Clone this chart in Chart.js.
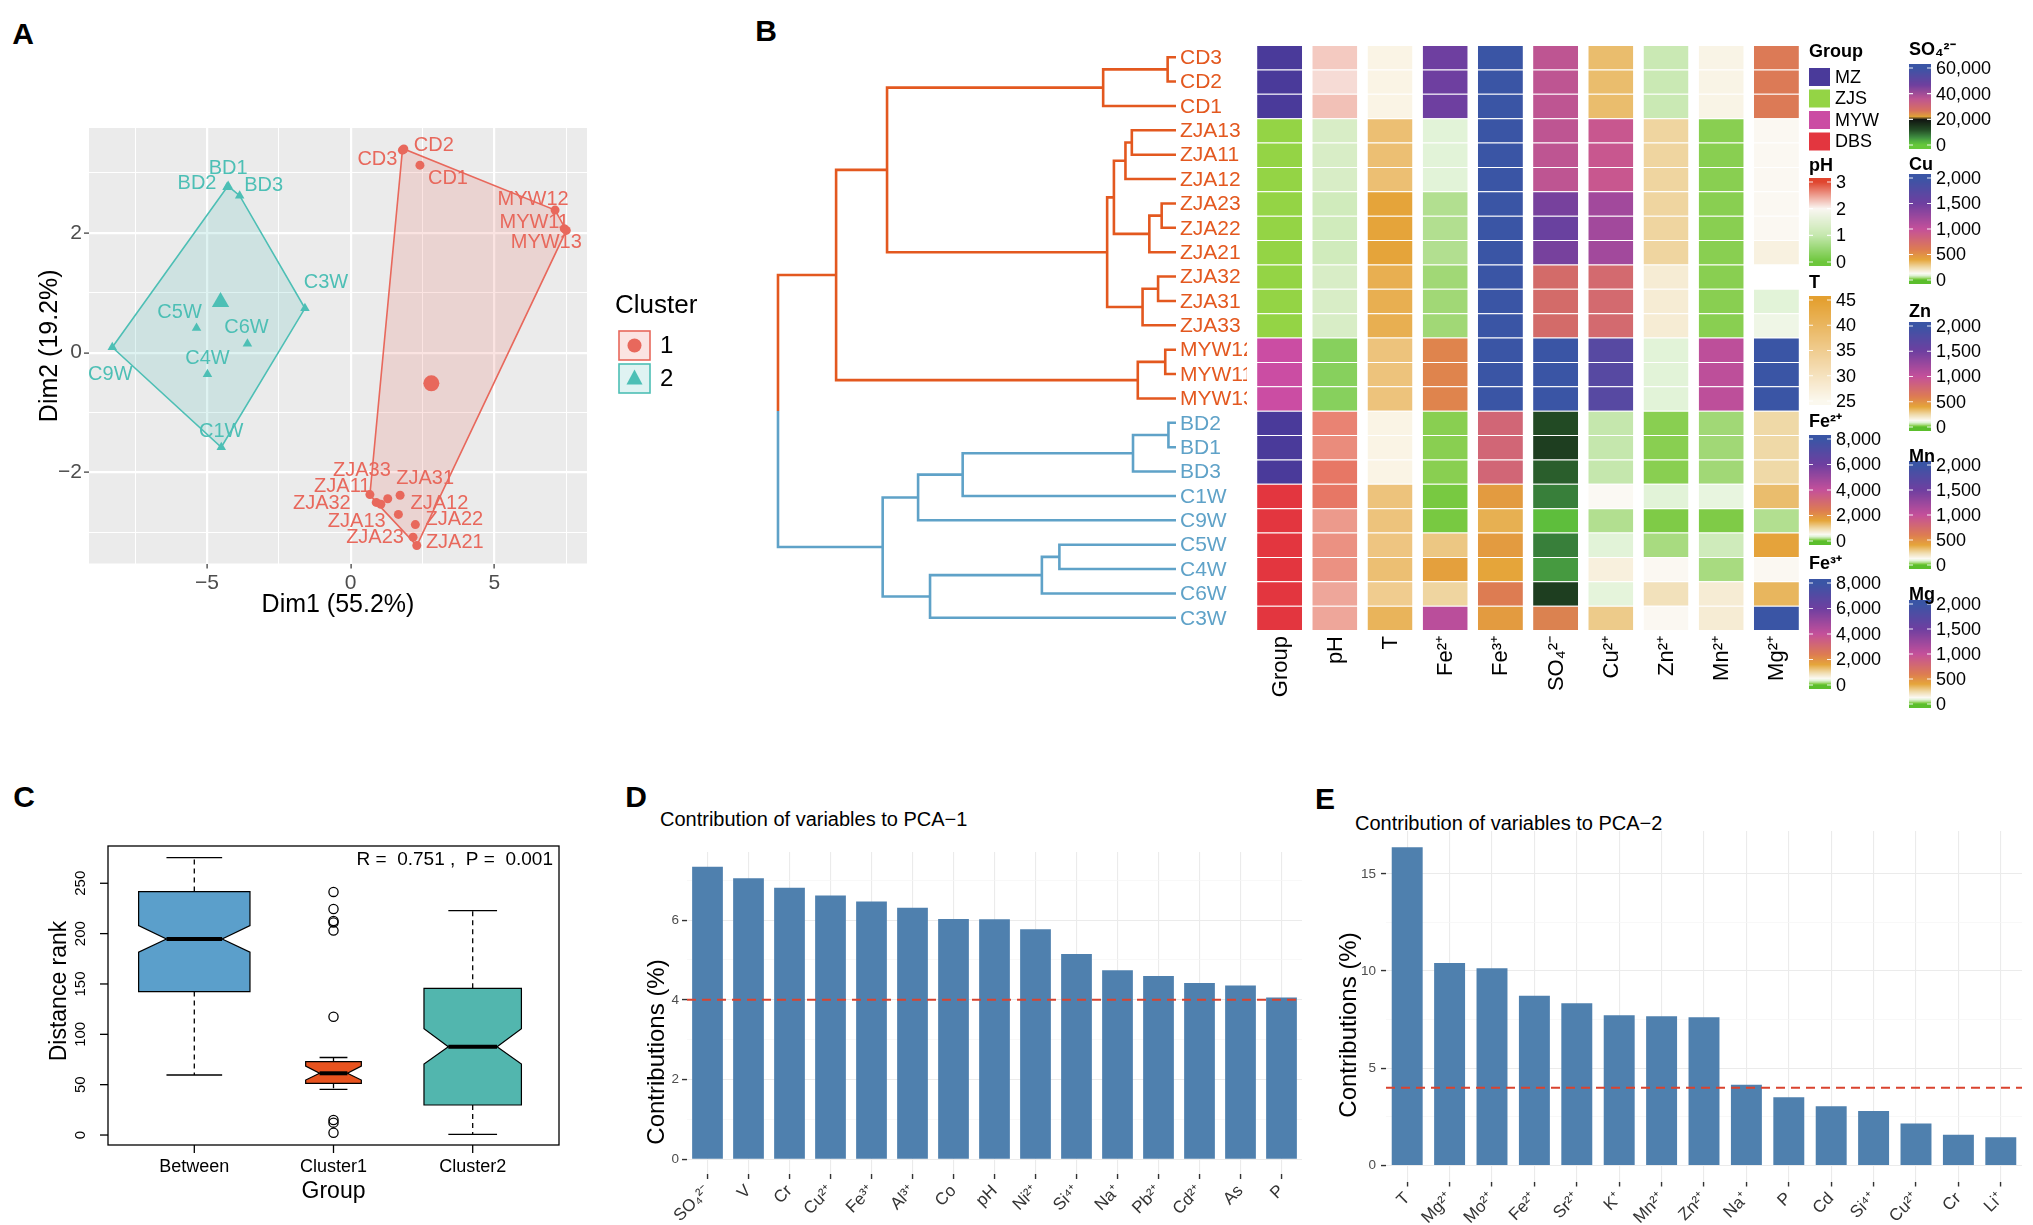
<!DOCTYPE html>
<html>
<head>
<meta charset="utf-8">
<title>Sample clustering and PCA contributions</title>
<script src="https://cdn.jsdelivr.net/npm/chart.js@4.4.1/dist/chart.umd.min.js"></script>
<style>
  html, body { margin: 0; padding: 0; background: #fff; }
  body { position: relative; width: 2033px; height: 1225px; overflow: hidden;
         font-family: "Liberation Sans", Arial, Helvetica, sans-serif; }
  canvas { position: absolute; }
  .txt { position: absolute; white-space: nowrap; line-height: 1; transform: translateY(-50%); color: #000; }
  .letter { font-weight: bold; font-size: 30px; transform: translate(-50%, -50%); }
</style>
</head>
<body>
<div class="txt letter" style="left:23px;top:34px">A</div>
<div class="txt letter" style="left:766px;top:31px">B</div>
<div class="txt letter" style="left:24px;top:797px">C</div>
<div class="txt letter" style="left:636px;top:797px">D</div>
<div class="txt letter" style="left:1325px;top:799px">E</div>
<div class="txt" style="left:660px;top:819px;font-size:20px">Contribution of variables to PCA−1</div>
<div class="txt" style="left:1355px;top:823px;font-size:20px">Contribution of variables to PCA−2</div>

<canvas id="pca" width="720" height="640" style="left:0;top:0"></canvas>
<canvas id="dendro" width="500" height="720" style="left:760px;top:0"></canvas>
<canvas id="heat" width="783" height="720" style="left:1250px;top:0"></canvas>
<canvas id="box" width="620" height="465" style="left:0;top:760px"></canvas>
<canvas id="pc1" width="720" height="465" style="left:600px;top:760px"></canvas>
<canvas id="pc2" width="733" height="465" style="left:1300px;top:760px"></canvas>

<script>
// ---------- A: PCA cluster plot ----------
const pcaNames = ['CD3','CD2','CD1','MYW12','MYW11','MYW13','ZJA33','ZJA11','ZJA32','ZJA13','ZJA31','ZJA12','ZJA22','ZJA23','ZJA21',
                  'BD1','BD2','BD3','C3W','C5W','C6W','C4W','C9W','C1W'];
const pcaDim1 = [1.80, 1.85, 2.41, 7.11, 7.43, 7.50, 0.67, 0.89, 1.05, 1.29, 1.72, 1.66, 2.25, 2.17, 2.30,
                 -4.26, -4.30, -3.86, -1.59, -5.36, -3.59, -4.98, -8.29, -4.50];
const pcaDim2 = [3.38, 3.40, 3.13, 2.38, 2.07, 2.04, -2.37, -2.50, -2.53, -2.44, -2.38, -2.70, -2.87, -3.08, -3.22,
                 2.78, 2.76, 2.62, 0.74, 0.41, 0.15, -0.36, 0.09, -1.58];
const pcaCluster = [1,1,1,1,1,1,1,1,1,1,1,1,1,1,1, 2,2,2,2,2,2,2,2,2];
const pcaXTicks = [-7.5, -5, -2.5, 0, 2.5, 5, 7.5];
const pcaYTicks = [-3, -2, -1, 0, 1, 2, 3];

// ---------- B: dendrogram + heatmap ----------
const leaves = ['CD3','CD2','CD1','ZJA13','ZJA11','ZJA12','ZJA23','ZJA22','ZJA21','ZJA32','ZJA31','ZJA33',
                'MYW12','MYW11','MYW13','BD2','BD1','BD3','C1W','C9W','C5W','C4W','C6W','C3W'];
// [left child, right child, height]; numbers refer to earlier merges
const merges = [
  ['CD3','CD2',0.21], [0,'CD1',1.83],
  ['ZJA13','ZJA11',1.11], [2,'ZJA12',1.27], ['ZJA23','ZJA22',0.36], [4,'ZJA21',0.67], [3,5,1.56],
  ['ZJA32','ZJA31',0.45], [7,'ZJA33',0.84], [6,8,1.73], [1,9,7.26],
  ['MYW12','MYW11',0.27], [11,'MYW13',0.96], [10,12,8.54],
  ['BD2','BD1',0.19], [14,'BD3',1.08], [15,'C1W',5.36], [16,'C9W',6.48],
  ['C5W','C4W',2.93], [18,'C6W',3.37], [19,'C3W',6.18], [17,20,7.37],
  [13,21,10]
];
const heatColumns = ['Group','pH','T','Fe²⁺','Fe³⁺','SO₄²⁻','Cu²⁺','Zn²⁺','Mn²⁺','Mg²⁺'];
const groupNames = ['MZ','ZJS','MYW','DBS'];
const rowGroup = ['MZ','MZ','MZ','ZJS','ZJS','ZJS','ZJS','ZJS','ZJS','ZJS','ZJS','ZJS',
                  'MYW','MYW','MYW','MZ','MZ','MZ','DBS','DBS','DBS','DBS','DBS','DBS'];
const heatPH  = [2.25,2.15,2.3, 1.35,1.35,1.35, 1.2,1.2,1.2, 1.35,1.35,1.35, 0.3,0.3,0.3, 2.65,2.6,2.72, 2.72,2.52,2.57,2.57,2.45,2.45];
const heatT   = [26,26,26, 38,38,38, 44,44,44, 41.5,41.5,41.5, 37,37,37, 26,26,26, 37,37,36.5,38,35,40.5];
const heatFe2 = [6000,6000,6000, 360,360,360, 200,200,200, 160,160,160, 2240,2240,2240, 104,104,104, 64,64,1200,1700,1040,4240];
const heatFe3 = [8000,8000,8000,8000,8000,8000,8000,8000,8000,8000,8000,8000,8000,8000,8000, 3200,3200,3200, 1800,1470,1800,1600,2400,1800];
const heatSO4 = [36000,36000,36000,36000,36000,36000, 45600,48000,45600, 28800,28800,28800, 60000,60000,60000,
                 12000,13800,10200, 7200,1200,7200,4800,13800,25200];
const heatCu  = [330,330,330, 940,940,940, 1200,1200,1200, 760,760,760, 1720,1720,1720, 66,66,66, 130,50,90,165,94,290];
const heatZn  = [70,70,70, 260,260,260, 260,260,260, 180,180,180, 90,90,90, 26,26,26, 90,20,44,132,220,132];
const heatMn  = [150,150,150, 26,26,26, 26,26,26, 26,26,26, 1040,1040,1040, 40,40,40, 100,20,74,44,180,180];
const heatMg  = [620,620,620, 132,132,132, 132,132,160, null,90,110, 2000,2000,2000, 250,250,250, 330,50,410,132,350,2000];
const heatValues = [rowGroup, heatPH, heatT, heatFe2, heatFe3, heatSO4, heatCu, heatZn, heatMn, heatMg];

// ---------- C: ANOSIM boxplot ----------
const boxGroups = ['Between','Cluster1','Cluster2'];
const boxWhiskerLow  = [59.6, 45.4, 0.7];
const boxQ1          = [142.4, 51.3, 29.8];
const boxNotchLow    = [181.5, 54.6, 70.5];
const boxMedian      = [194.7, 61.3, 87.7];
const boxNotchHigh   = [208.0, 68.5, 105.6];
const boxQ3          = [241.7, 72.8, 145.7];
const boxWhiskerHigh = [275.5, 77.0, 222.8];
const boxHalfWidth   = [0.40, 0.20, 0.35];
const outlierGroup = [2,2,2,2,2,2,2,2,2];
const outlierValue = [241.4, 224.5, 212.6, 211.0, 203.0, 117.5, 14.9, 12.3, 2.3];
const boxYTicks = [0, 50, 100, 150, 200, 250];

// ---------- D / E: contributions ----------
const pc1Vars = ['SO₄²⁻','V','Cr','Cu²⁺','Fe³⁺','Al³⁺','Co','pH','Ni²⁺','Si⁴⁺','Na⁺','Pb²⁺','Cd²⁺','As','P'];
const pc1Contrib = [7.34, 7.05, 6.81, 6.62, 6.47, 6.31, 6.03, 6.02, 5.77, 5.15, 4.74, 4.60, 4.42, 4.36, 4.06];
const pc2Vars = ['T','Mg²⁺','Mo²⁺','Fe²⁺','Sr²⁺','K⁺','Mn²⁺','Zn²⁺','Na⁺','P','Cd','Si⁴⁺','Cu²⁺','Cr','Li⁺'];
const pc2Contrib = [16.37, 10.41, 10.15, 8.73, 8.35, 7.73, 7.68, 7.63, 4.15, 3.51, 3.05, 2.81, 2.16, 1.58, 1.46];
const expectedContrib = 4;

const FONT = '"Liberation Sans", Arial, Helvetica, sans-serif';
Chart.defaults.font.family = FONT;
Chart.defaults.animation = false;
Chart.defaults.plugins.legend.display = false;
Chart.defaults.plugins.tooltip.enabled = false;

const minus = v => (v < 0 ? '−' : '') + Math.abs(v);
const isMult = (v, m) => Math.abs(v / m - Math.round(v / m)) < 1e-9;

// ===== A =====
const RED = '#E8685C', TEAL = '#4DBFB5';
const clusterColor = {1: RED, 2: TEAL};
const clusterFill = {1: 'rgba(232,104,92,0.18)', 2: 'rgba(77,191,181,0.18)'};
const labelNudge = {CD3:[-25,9], CD2:[30,-3], CD1:[28,13], MYW12:[-22,-11], MYW11:[-30,-6], MYW13:[-20,12],
  ZJA33:[-8,-24], ZJA11:[-34,-16], ZJA32:[-59,-1], ZJA13:[-31,23], ZJA31:[25,-17], ZJA12:[41,-11],
  ZJA22:[39,-5], ZJA23:[-38,0], ZJA21:[38,-3], BD1:[0,-18], BD2:[-30,-4], BD3:[24,-10], C3W:[21,-26],
  C5W:[-17,-16], C6W:[-1,-16], C4W:[0,-16], C9W:[-2,27], C1W:[0,-16]};

function hull(pts) {
  const p = pts.slice().sort((a, b) => a.x - b.x || a.y - b.y);
  const cross = (o, a, b) => (a.x - o.x) * (b.y - o.y) - (a.y - o.y) * (b.x - o.x);
  const lo = [], up = [];
  for (const q of p) { while (lo.length >= 2 && cross(lo[lo.length-2], lo[lo.length-1], q) <= 0) lo.pop(); lo.push(q); }
  for (let i = p.length - 1; i >= 0; i--) { const q = p[i]; while (up.length >= 2 && cross(up[up.length-2], up[up.length-1], q) <= 0) up.pop(); up.push(q); }
  lo.pop(); up.pop();
  const h = lo.concat(up); h.push(h[0]);
  return h;
}

const pcaDatasets = [];
[1, 2].forEach(c => {
  const pts = pcaNames.map((n, i) => ({x: pcaDim1[i], y: pcaDim2[i], name: n, c: pcaCluster[i]})).filter(p => p.c === c);
  const cx = pts.reduce((s, p) => s + p.x, 0) / pts.length, cy = pts.reduce((s, p) => s + p.y, 0) / pts.length;
  const style = c === 1 ? 'circle' : 'triangle';
  pcaDatasets.push({type: 'scatter', data: pts, pointStyle: style, pointRadius: c === 1 ? 4.5 : 5.5,
    backgroundColor: clusterColor[c], borderWidth: 0, order: 1, clip: false});
  pcaDatasets.push({type: 'scatter', data: [{x: cx, y: cy}], pointStyle: style, pointRadius: c === 1 ? 8 : 10,
    backgroundColor: clusterColor[c], borderWidth: 0, order: 1, clip: false});
  pcaDatasets.push({type: 'line', data: hull(pts), borderColor: clusterColor[c], borderWidth: 1.6,
    backgroundColor: clusterFill[c], fill: 'shape', pointRadius: 0, tension: 0, order: 5, clip: false});
});

const pcaPanel = {
  id: 'pcaPanel',
  beforeDraw(chart) {
    const {ctx, chartArea: a} = chart;
    ctx.save(); ctx.fillStyle = '#EBEBEB'; ctx.fillRect(a.left, a.top, a.width, a.height); ctx.restore();
  },
  afterDraw(chart) {
    const {ctx, scales: {x, y}} = chart;
    ctx.save();
    ctx.font = '20px ' + FONT; ctx.textAlign = 'center'; ctx.textBaseline = 'middle';
    pcaNames.forEach((n, i) => {
      const d = labelNudge[n] || [0, -16];
      ctx.fillStyle = clusterColor[pcaCluster[i]];
      ctx.fillText(n, x.getPixelForValue(pcaDim1[i]) + d[0], y.getPixelForValue(pcaDim2[i]) + d[1]);
    });
    // legend
    ctx.textAlign = 'left'; ctx.fillStyle = '#000';
    ctx.font = '26px ' + FONT; ctx.fillText('Cluster', 615, 306);
    [[1, 331], [2, 364]].forEach(([c, top]) => {
      ctx.fillStyle = '#fff'; ctx.fillRect(619, top, 31, 29);
      ctx.fillStyle = clusterFill[c]; ctx.fillRect(619, top, 31, 29);
      ctx.strokeStyle = clusterColor[c]; ctx.lineWidth = 1.6; ctx.strokeRect(619, top, 31, 29);
      ctx.fillStyle = clusterColor[c];
      const mx = 634.5, my = top + 14.5;
      ctx.beginPath();
      if (c === 1) ctx.arc(mx, my, 7, 0, Math.PI * 2);
      else { ctx.moveTo(mx, my - 9); ctx.lineTo(mx + 8, my + 6); ctx.lineTo(mx - 8, my + 6); ctx.closePath(); }
      ctx.fill();
      ctx.fillStyle = '#000'; ctx.font = '24px ' + FONT; ctx.fillText(String(c), 660, my + 1);
    });
    ctx.restore();
  }
};

new Chart(document.getElementById('pca'), {
  type: 'scatter',
  data: {datasets: pcaDatasets},
  options: {
    responsive: false,
    layout: {padding: {left: 0, top: 128, right: 133, bottom: 0}},
    scales: {
      x: {type: 'linear', min: -9.1, max: 8.22,
        afterBuildTicks: s => { s.ticks = pcaXTicks.map(v => ({value: v})); },
        afterFit: s => { s.height = 76.5; },
        ticks: {autoSkip: false, maxRotation: 0, callback: v => isMult(v, 5) ? minus(v) : '', color: '#4D4D4D', font: {size: 21}, padding: 2},
        grid: {color: '#FFFFFF', lineWidth: c => c.tick && isMult(c.tick.value, 5) ? 2.2 : 1,
               tickColor: c => c.tick && isMult(c.tick.value, 5) ? '#333' : 'rgba(0,0,0,0)', tickLength: 5, tickWidth: 1.2},
        border: {display: false},
        title: {display: true, text: 'Dim1 (55.2%)', color: '#000', font: {size: 25}, padding: {top: 0, bottom: 20}}
      },
      y: {type: 'linear', min: -3.52, max: 3.75,
        afterBuildTicks: s => { s.ticks = pcaYTicks.map(v => ({value: v})); },
        afterFit: s => { s.width = 89; },
        ticks: {autoSkip: false, callback: v => isMult(v, 2) ? minus(v) : '', color: '#4D4D4D', font: {size: 21}, padding: 2},
        grid: {color: '#FFFFFF', lineWidth: c => c.tick && isMult(c.tick.value, 2) ? 2.2 : 1,
               tickColor: c => c.tick && isMult(c.tick.value, 2) ? '#333' : 'rgba(0,0,0,0)', tickLength: 5, tickWidth: 1.2},
        border: {display: false},
        title: {display: true, text: 'Dim2 (19.2%)', color: '#000', font: {size: 25}, padding: {top: 35, bottom: 0}}
      }
    }
  },
  plugins: [pcaPanel]
});

// ===== B: dendrogram =====
const DRED = '#E3581F', DBLUE = '#5FA2C8';
const nodeInfo = [];
function nodeOf(ref) {
  if (typeof ref === 'string') return {h: 0, y: leaves.indexOf(ref), leaves: [ref]};
  return nodeInfo[ref];
}
merges.forEach(([a, b, h]) => {
  const A = nodeOf(a), B = nodeOf(b);
  nodeInfo.push({h, y: (A.y + B.y) / 2, leaves: A.leaves.concat(B.leaves), a: A, b: B});
});
const root = nodeInfo[nodeInfo.length - 1];
const redLeaves = new Set(root.a.leaves);
const leafColor = n => redLeaves.has(n) ? DRED : DBLUE;
const dendroSets = [];
const seg = (pts, color) => dendroSets.push({data: pts, showLine: true, borderColor: color, borderWidth: 2.6,
  pointRadius: 0, fill: false, tension: 0, clip: false});
nodeInfo.forEach(n => {
  const {a, b, h} = n;
  if (n === root) {
    const mid = (a.y + b.y) / 2;
    seg([{x: a.h, y: a.y}, {x: h, y: a.y}, {x: h, y: mid}], DRED);
    seg([{x: h, y: mid}, {x: h, y: b.y}, {x: b.h, y: b.y}], DBLUE);
  } else {
    seg([{x: a.h, y: a.y}, {x: h, y: a.y}, {x: h, y: b.y}, {x: b.h, y: b.y}], leafColor(n.leaves[0]));
  }
});
new Chart(document.getElementById('dendro'), {
  type: 'scatter',
  data: {datasets: dendroSets},
  options: {
    responsive: false,
    layout: {padding: {left: 18, right: 84, top: 45, bottom: 90}},
    scales: {
      x: {type: 'linear', min: 0, max: 10, reverse: true, display: false},
      y: {type: 'linear', min: -0.5, max: leaves.length - 0.5, reverse: true, display: false}
    }
  },
  plugins: [{
    id: 'leafLabels',
    afterDatasetsDraw(chart) {
      const {ctx, chartArea: a, scales: {y}} = chart;
      ctx.save();
      ctx.beginPath(); ctx.rect(a.right, 0, 487 - a.right, chart.height); ctx.clip();
      ctx.font = '21px ' + FONT; ctx.textBaseline = 'middle'; ctx.textAlign = 'left';
      leaves.forEach((n, i) => { ctx.fillStyle = leafColor(n); ctx.fillText(n, a.right + 4, y.getPixelForValue(i) + 1); });
      ctx.restore();
    }
  }]
});

// ===== B: heatmap =====
function hexRgb(c) { const n = parseInt(c.slice(1), 16); return [(n >> 16) & 255, (n >> 8) & 255, n & 255]; }
function rampColor(stops, v) {
  const s = x => 'rgb(' + hexRgb(x).join(',') + ')';
  if (v <= stops[0][0]) return s(stops[0][1]);
  for (let i = 1; i < stops.length; i++) {
    if (v <= stops[i][0]) {
      const [v0, c0] = stops[i - 1], [v1, c1] = stops[i];
      const t = (v - v0) / (v1 - v0), p = hexRgb(c0), q = hexRgb(c1);
      return 'rgb(' + p.map((x, k) => Math.round(x + (q[k] - x) * t)).join(',') + ')';
    }
  }
  return s(stops[stops.length - 1][1]);
}
const genericRamp = [[0,'#5BBE2C'],[0.012,'#86CE4C'],[0.025,'#B2DF90'],[0.045,'#E2F3D8'],[0.065,'#FBF9F3'],
  [0.12,'#F0DCAE'],[0.2,'#E5A53A'],[0.3,'#DD7C52'],[0.5,'#C4509A'],[0.75,'#6E3FA0'],[1,'#3A55A5']];
const so4Ramp = [[0,'#66C83A'],[0.05,'#52B040'],[0.1,'#3E8C40'],[0.2,'#224A24'],[0.33,'#111511'],[0.37,'#E0A038'],
  [0.45,'#D8705F'],[0.6,'#BE5592'],[0.78,'#6E3F9E'],[1,'#3A55A5']];
const scaled = (r, m) => r.map(([f, c]) => [f * m, c]);
const groupColors = {MZ: '#4A3A9A', ZJS: '#94D445', MYW: '#CB4DA3', DBS: '#E3363F'};
const columnRamps = [null,
  [[0,'#6CC63A'],[1,'#C5E8AE'],[2,'#FAF6F2'],[3,'#E0452E']],
  [[25,'#FBF8EE'],[45,'#E4A030']],
  scaled(genericRamp, 8000), scaled(genericRamp, 8000), scaled(so4Ramp, 60000),
  scaled(genericRamp, 2000), scaled(genericRamp, 2000), scaled(genericRamp, 2000), scaled(genericRamp, 2000)];
const cellColor = (j, v) => j === 0 ? groupColors[v] : (v == null ? 'rgba(0,0,0,0)' : rampColor(columnRamps[j], v));

const heatSets = leaves.map((n, i) => ({
  label: n,
  data: heatColumns.map((c, j) => heatValues[j][i] == null ? null : [i, i + 1]),
  backgroundColor: heatColumns.map((c, j) => cellColor(j, heatValues[j][i])),
  borderColor: 'rgba(255,255,255,0.22)', borderWidth: {top: 1, bottom: 0, left: 0, right: 0}, borderSkipped: false,
  grouped: false, barPercentage: 0.815, categoryPercentage: 1
}));

const legendBars = [
  {title: 'pH', ramp: 1, x: 1809, yMax: 182, yMin: 262, ty: 166, vmin: 0, vmax: 3, ticks: [0, 1, 2, 3]},
  {title: 'T', ramp: 2, x: 1809, yMax: 300, yMin: 401, ty: 283, vmin: 25, vmax: 45, ticks: [25, 30, 35, 40, 45]},
  {title: 'Fe²⁺', ramp: 3, x: 1809, yMax: 439, yMin: 541, ty: 422, vmin: 0, vmax: 8000, ticks: [0, 2000, 4000, 6000, 8000]},
  {title: 'Fe³⁺', ramp: 4, x: 1809, yMax: 583, yMin: 685, ty: 564, vmin: 0, vmax: 8000, ticks: [0, 2000, 4000, 6000, 8000]},
  {title: 'SO₄²⁻', ramp: 5, x: 1909, yMax: 68, yMin: 145, ty: 50, vmin: 0, vmax: 60000, ticks: [0, 20000, 40000, 60000]},
  {title: 'Cu', ramp: 6, x: 1909, yMax: 178, yMin: 280, ty: 165, vmin: 0, vmax: 2000, ticks: [0, 500, 1000, 1500, 2000]},
  {title: 'Zn', ramp: 7, x: 1909, yMax: 326, yMin: 427, ty: 312, vmin: 0, vmax: 2000, ticks: [0, 500, 1000, 1500, 2000]},
  {title: 'Mn', ramp: 8, x: 1909, yMax: 465, yMin: 565, ty: 457, vmin: 0, vmax: 2000, ticks: [0, 500, 1000, 1500, 2000]},
  {title: 'Mg', ramp: 9, x: 1909, yMax: 604, yMin: 704, ty: 595, vmin: 0, vmax: 2000, ticks: [0, 500, 1000, 1500, 2000]}
];

new Chart(document.getElementById('heat'), {
  type: 'bar',
  data: {labels: heatColumns, datasets: heatSets},
  options: {
    responsive: false,
    layout: {padding: {left: 2, right: 229, top: 45, bottom: 90}},
    scales: {
      x: {display: false},
      y: {type: 'linear', min: 0, max: leaves.length, reverse: true, display: false}
    }
  },
  plugins: [{
    id: 'heatDecor',
    afterDraw(chart) {
      const {ctx, chartArea: a, scales: {x}} = chart;
      const X0 = 1250;
      ctx.save();
      ctx.fillStyle = '#000'; ctx.font = '22px ' + FONT; ctx.textBaseline = 'middle'; ctx.textAlign = 'right';
      heatColumns.forEach((c, j) => {
        ctx.save(); ctx.translate(x.getPixelForValue(j) + 1, a.bottom + 6); ctx.rotate(-Math.PI / 2);
        ctx.fillText(c, 0, 0); ctx.restore();
      });
      ctx.textAlign = 'left';
      // group legend
      ctx.font = 'bold 18px ' + FONT; ctx.fillText('Group', 1809 - X0, 52);
      ctx.font = '18px ' + FONT;
      groupNames.forEach((g, k) => {
        const cy = 77 + k * 21.5;
        ctx.fillStyle = groupColors[g]; ctx.fillRect(1809 - X0, cy - 9, 21, 18);
        ctx.fillStyle = '#000'; ctx.fillText(g, 1835 - X0, cy + 1);
      });
      // colour bars
      legendBars.forEach(L => {
        const bx = L.x - X0, top = L.yMax - 4, bot = L.yMin + 4;
        for (let py = top; py < bot; py++) {
          let v = L.vmax - (py + 0.5 - L.yMax) / (L.yMin - L.yMax) * (L.vmax - L.vmin);
          v = Math.max(L.vmin, Math.min(L.vmax, v));
          ctx.fillStyle = rampColor(columnRamps[L.ramp], v); ctx.fillRect(bx, py, 22, 1);
        }
        ctx.strokeStyle = 'rgba(255,255,255,0.9)'; ctx.lineWidth = 1.2;
        ctx.font = '18px ' + FONT; ctx.fillStyle = '#000';
        L.ticks.forEach(t => {
          const py = L.yMax + (L.vmax - t) / (L.vmax - L.vmin) * (L.yMin - L.yMax);
          ctx.beginPath(); ctx.moveTo(bx, py); ctx.lineTo(bx + 4, py); ctx.moveTo(bx + 18, py); ctx.lineTo(bx + 22, py); ctx.stroke();
          ctx.fillText(t.toLocaleString('en-US'), bx + 27, py + 1);
        });
        ctx.font = 'bold 18px ' + FONT; ctx.fillText(L.title, bx, L.ty);
      });
      ctx.restore();
    }
  }]
});

// ===== C: boxplot =====
const boxColors = ['#5B9FCB', '#E8531F', '#52B6AE'];
new Chart(document.getElementById('box'), {
  type: 'scatter',
  data: {datasets: [{data: outlierValue.map((v, i) => ({x: outlierGroup[i], y: v})), pointStyle: 'circle', pointRadius: 4.6,
    backgroundColor: 'rgba(0,0,0,0)', borderColor: '#000', borderWidth: 1.3}]},
  options: {
    responsive: false,
    layout: {padding: {left: 108, right: 61, top: 86, bottom: 80}},
    scales: {
      x: {type: 'linear', min: 0.38, max: 3.62, display: false},
      y: {type: 'linear', min: -9.9, max: 287, display: false}
    }
  },
  plugins: [{
    id: 'notchBoxes',
    beforeDatasetsDraw(chart) {
      const {ctx, scales: {x, y}} = chart;
      const Y = v => y.getPixelForValue(v);
      ctx.save();
      boxGroups.forEach((g, i) => {
        const c = x.getPixelForValue(i + 1), hw = x.getPixelForValue(i + 1 + boxHalfWidth[i]) - c, xn = hw / 2;
        ctx.strokeStyle = '#000'; ctx.lineWidth = 1.3;
        ctx.setLineDash([5, 4]); ctx.beginPath();
        ctx.moveTo(c, Y(boxQ3[i])); ctx.lineTo(c, Y(boxWhiskerHigh[i]));
        ctx.moveTo(c, Y(boxQ1[i])); ctx.lineTo(c, Y(boxWhiskerLow[i]));
        ctx.stroke(); ctx.setLineDash([]);
        ctx.beginPath();
        ctx.moveTo(c - xn, Y(boxWhiskerHigh[i])); ctx.lineTo(c + xn, Y(boxWhiskerHigh[i]));
        ctx.moveTo(c - xn, Y(boxWhiskerLow[i])); ctx.lineTo(c + xn, Y(boxWhiskerLow[i]));
        ctx.stroke();
        const xl = c - hw, xr = c + hw;
        ctx.beginPath();
        ctx.moveTo(xl, Y(boxQ1[i])); ctx.lineTo(xl, Y(boxNotchLow[i])); ctx.lineTo(c - xn, Y(boxMedian[i]));
        ctx.lineTo(xl, Y(boxNotchHigh[i])); ctx.lineTo(xl, Y(boxQ3[i])); ctx.lineTo(xr, Y(boxQ3[i]));
        ctx.lineTo(xr, Y(boxNotchHigh[i])); ctx.lineTo(c + xn, Y(boxMedian[i])); ctx.lineTo(xr, Y(boxNotchLow[i]));
        ctx.lineTo(xr, Y(boxQ1[i])); ctx.closePath();
        ctx.fillStyle = boxColors[i]; ctx.fill(); ctx.lineWidth = 1.2; ctx.stroke();
        ctx.lineWidth = 4; ctx.beginPath(); ctx.moveTo(c - xn, Y(boxMedian[i])); ctx.lineTo(c + xn, Y(boxMedian[i])); ctx.stroke();
      });
      ctx.restore();
    },
    afterDraw(chart) {
      const {ctx, chartArea: a, scales: {x, y}} = chart;
      ctx.save();
      ctx.strokeStyle = '#000'; ctx.lineWidth = 1.3; ctx.strokeRect(a.left, a.top, a.width, a.height);
      ctx.fillStyle = '#000'; ctx.textAlign = 'center'; ctx.textBaseline = 'middle';
      ctx.font = '15px ' + FONT;
      boxYTicks.forEach(v => {
        const py = y.getPixelForValue(v);
        ctx.beginPath(); ctx.moveTo(a.left - 8, py); ctx.lineTo(a.left, py); ctx.stroke();
        ctx.save(); ctx.translate(81, py); ctx.rotate(-Math.PI / 2); ctx.fillText(String(v), 0, 0); ctx.restore();
      });
      ctx.font = '18px ' + FONT;
      boxGroups.forEach((g, i) => {
        const px = x.getPixelForValue(i + 1);
        ctx.beginPath(); ctx.moveTo(px, a.bottom); ctx.lineTo(px, a.bottom + 8); ctx.stroke();
        ctx.fillText(g, px, 407);
      });
      ctx.font = '23px ' + FONT;
      ctx.fillText('Group', (a.left + a.right) / 2, 432);
      ctx.save(); ctx.translate(60, 231); ctx.rotate(-Math.PI / 2); ctx.fillText('Distance rank', 0, 0); ctx.restore();
      ctx.font = '19px ' + FONT; ctx.textAlign = 'right';
      ctx.fillText('R =  0.751 ,  P =  0.001', a.right - 6, 100);
      ctx.restore();
    }
  }]
});

// ===== D, E: contribution bars =====
const contribDecor = {
  id: 'contribDecor',
  afterDatasetsDraw(chart, args, opts) {
    const {ctx, chartArea: a, scales: {y}} = chart;
    const py = y.getPixelForValue(opts.refValue);
    ctx.save(); ctx.strokeStyle = '#D9432F'; ctx.lineWidth = 2; ctx.setLineDash([9, 6]);
    ctx.beginPath(); ctx.moveTo(a.left, py); ctx.lineTo(a.right, py); ctx.stroke(); ctx.restore();
  },
  afterDraw(chart, args, opts) {
    const {ctx} = chart;
    ctx.save(); ctx.translate(opts.titleX, opts.titleY); ctx.rotate(-Math.PI / 2);
    ctx.fillStyle = '#000'; ctx.font = '24px ' + FONT; ctx.textAlign = 'center'; ctx.textBaseline = 'middle';
    ctx.fillText('Contributions (%)', 0, 0); ctx.restore();
  }
};
function contribChart(id, vars, vals, o) {
  const major = v => isMult(v, o.major);
  return new Chart(document.getElementById(id), {
    type: 'bar',
    data: {labels: vars, datasets: [{data: vals, backgroundColor: '#4F80AE', barPercentage: o.barPct, categoryPercentage: 1}]},
    options: {
      responsive: false,
      layout: {padding: {left: 0, right: o.right, top: o.top, bottom: 0}},
      plugins: {contribDecor: {refValue: expectedContrib, titleX: o.titleX, titleY: o.titleY}},
      scales: {
        x: {grid: {offset: false, color: '#EBEBEB', lineWidth: 1.1, tickColor: '#333', tickLength: 5, tickWidth: 1.4},
            border: {display: false},
            ticks: {autoSkip: false, minRotation: 45, maxRotation: 45, color: '#333', font: {size: 17}, padding: 2},
            afterFit: s => { s.height = o.xh; }},
        y: {min: o.min, max: o.max,
            afterBuildTicks: s => { s.ticks = o.ticks.map(v => ({value: v})); },
            afterFit: s => { s.width = o.yw; },
            ticks: {autoSkip: false, callback: v => major(v) ? String(v) : '', color: '#4D4D4D', font: {size: 13.5}, padding: o.tpad},
            grid: {color: c => c.tick && major(c.tick.value) ? '#EBEBEB' : '#F5F5F5',
                   lineWidth: c => c.tick && major(c.tick.value) ? 1.1 : 0.7,
                   tickColor: c => c.tick && major(c.tick.value) ? '#333' : 'rgba(0,0,0,0)', tickLength: 5, tickWidth: 1.4},
            border: {display: false},
            title: {display: false}}
      }
    },
    plugins: [contribDecor]
  });
}
contribChart('pc1', pc1Vars, pc1Contrib, {min: -0.37, max: 7.71, ticks: [0, 1, 2, 3, 4, 5, 6, 7], major: 2,
  top: 92, right: 18, yw: 87, xh: 51, tpad: 3, titleX: 57, titleY: 292, barPct: 0.75});
contribChart('pc2', pc2Vars, pc2Contrib, {min: -0.82, max: 17.2, ticks: [0, 2.5, 5, 7.5, 10, 12.5, 15], major: 5,
  top: 71, right: 11, yw: 86, xh: 43.5, tpad: 5, titleX: 49, titleY: 265, barPct: 0.73});
</script>
</body>
</html>
